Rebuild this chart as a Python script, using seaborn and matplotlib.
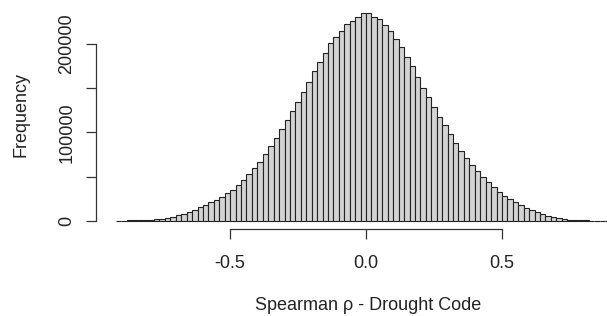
import numpy as np
import pandas as pd
import matplotlib
matplotlib.use("Agg")
import matplotlib.pyplot as plt
import seaborn as sns

# histogram bins (width 0.02) starting at -0.92, counts
bin_start = -0.92
bin_width = 0.02
counts = [
    60, 120, 200, 300, 450, 750, 1100, 1700, 2300, 3000,
    4400, 6000, 8000, 10200, 12500, 15100, 18200, 20800, 23500, 26500,
    31000, 34900, 40600, 46200, 52300, 59500, 66300, 75000, 84100, 94000,
    104200, 114400, 124200, 134400, 145800, 157200, 169300, 179200, 189400, 200800,
    207600, 214800, 222400, 226500, 231000, 235600,
    235200, 231000, 228000, 221600, 214800, 205300, 196300, 185600, 175300, 162800,
    150800, 140100, 128800, 117400, 108000, 97700, 88300, 78800, 71300, 63600,
    56000, 49200, 43500, 37800, 33000, 28400, 24700, 20800, 17800, 14400,
    11700, 10200, 7600, 5700, 4200, 2600, 1900, 1100, 800, 450,
    250, 120, 80, 70, 60, 60,
]
x_ticks = [-0.5, 0.0, 0.5]
x_tick_labels = ["-0.5", "0.0", "0.5"]
y_ticks = [0, 50000, 100000, 150000, 200000]
y_tick_labels = ["0", "", "100000", "", "200000"]

edges = bin_start + bin_width * np.arange(len(counts) + 1)
df = pd.DataFrame({"rho": (edges[:-1] + edges[1:]) / 2, "n": counts})

sns.set_style("white")
plt.rcParams["font.family"] = ["Liberation Sans", "DejaVu Sans"]

fig = plt.figure(figsize=(6.07, 3.16), dpi=100)
# plot region runs past the right edge in the original, so stop it at the edge
ax = fig.add_axes([96 / 607, 87 / 316, 511 / 607, 225 / 316])

sns.histplot(data=df, x="rho", weights="n", bins=len(counts),
             binrange=(edges[0], edges[-1]), color="#d3d3d3",
             edgecolor="#222222", linewidth=0.8, alpha=1, ax=ax)

ax.set_xlim(-0.9936, 0.8865)
ax.set_ylim(-9440, 245440)

# R-style axes: lines only between first and last tick
for s in ["top", "right"]:
    ax.spines[s].set_visible(False)
ax.spines["bottom"].set_bounds(-0.5, 0.5)
ax.spines["left"].set_bounds(0, 200000)
for s in ["bottom", "left"]:
    ax.spines[s].set_color("#333333")
    ax.spines[s].set_linewidth(0.9)

ax.set_xticks(x_ticks)
ax.set_xticklabels(x_tick_labels)
ax.set_yticks(y_ticks)
ax.set_yticklabels(y_tick_labels, rotation=90, va="center")
ax.tick_params(axis="both", direction="out", length=7, width=0.9,
               color="#333333", labelsize=13, labelcolor="#222222")
ax.tick_params(axis="x", pad=12, bottom=True)
ax.tick_params(axis="y", pad=8, left=True)

ax.set_xlabel("Spearman ρ - Drought Code", fontsize=13, color="#222222")
ax.set_ylabel("Frequency", fontsize=13, color="#222222")
ax.xaxis.set_label_coords(272 / 511, -0.338)
ax.yaxis.set_label_coords(-75 / 511, 0.507)
ax.xaxis.label.set_va("center")
ax.yaxis.label.set_va("center")

fig.savefig("out.png", dpi=100)
